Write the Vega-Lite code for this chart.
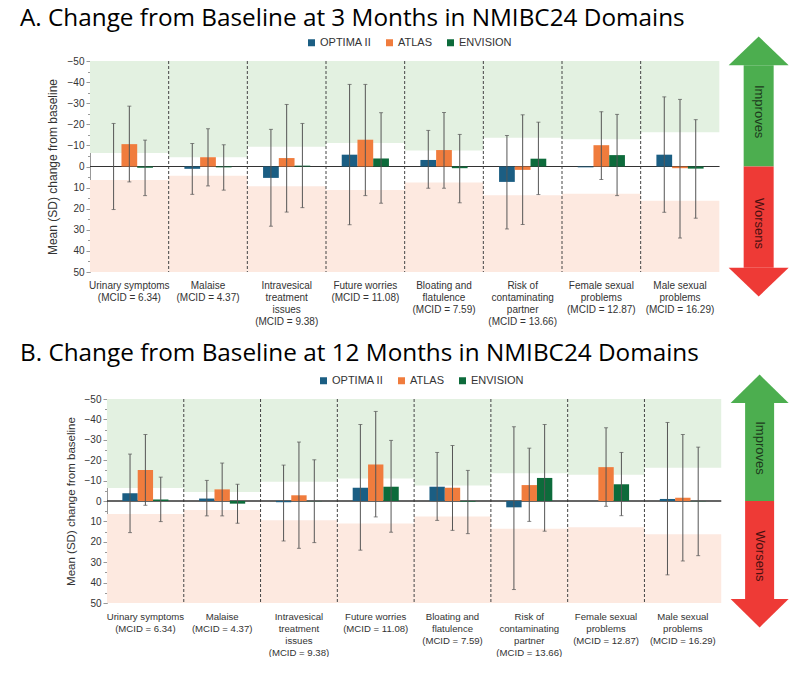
{
  "$schema": "https://vega.github.io/schema/vega-lite/v6.json",
  "padding": {"left": 20, "top": 7, "right": 0, "bottom": 0},
  "spacing": 16,
  "resolve": {"scale": {"color": "independent", "xOffset": "independent"}, "legend": {"color": "independent"}},
  "config": {
    "view": {"stroke": null},
    "font": "Liberation Sans",
    "axis": {"grid": false},
    "title": {"font": "Open Sans", "fontSize": 24.3, "fontWeight": "normal", "color": "#000", "anchor": "start", "frame": "group"}
  },
  "datasets": {
    "doms": [
      {"domain": "Urinary symptoms|(MCID = 6.34)", "mcid": 6.34, "neg": -6.34},
      {"domain": "Malaise|(MCID = 4.37)", "mcid": 4.37, "neg": -4.37},
      {"domain": "Intravesical|treatment|issues|(MCID = 9.38)", "mcid": 9.38, "neg": -9.38},
      {"domain": "Future worries|(MCID = 11.08)", "mcid": 11.08, "neg": -11.08},
      {"domain": "Bloating and|flatulence|(MCID = 7.59)", "mcid": 7.59, "neg": -7.59},
      {"domain": "Risk of|contaminating|partner|(MCID = 13.66)", "mcid": 13.66, "neg": -13.66},
      {"domain": "Female sexual|problems|(MCID = 12.87)", "mcid": 12.87, "neg": -12.87},
      {"domain": "Male sexual|problems|(MCID = 16.29)", "mcid": 16.29, "neg": -16.29}
    ],
    "a": [
      {"domain": "Urinary symptoms|(MCID = 6.34)", "trial": "OPTIMA II", "mean": 0, "lo": -20.4, "hi": 20.4},
      {"domain": "Urinary symptoms|(MCID = 6.34)", "trial": "ATLAS", "mean": -10.6, "lo": -28.6, "hi": 7.3},
      {"domain": "Urinary symptoms|(MCID = 6.34)", "trial": "ENVISION", "mean": 0.6, "lo": -12.5, "hi": 13.8},
      {"domain": "Malaise|(MCID = 4.37)", "trial": "OPTIMA II", "mean": 1.1, "lo": -10.9, "hi": 13.2},
      {"domain": "Malaise|(MCID = 4.37)", "trial": "ATLAS", "mean": -4.4, "lo": -17.9, "hi": 9.2},
      {"domain": "Malaise|(MCID = 4.37)", "trial": "ENVISION", "mean": 0.4, "lo": -10.3, "hi": 11.2},
      {"domain": "Intravesical|treatment|issues|(MCID = 9.38)", "trial": "OPTIMA II", "mean": 5.4, "lo": -17.6, "hi": 28.3},
      {"domain": "Intravesical|treatment|issues|(MCID = 9.38)", "trial": "ATLAS", "mean": -4.0, "lo": -29.4, "hi": 21.6},
      {"domain": "Intravesical|treatment|issues|(MCID = 9.38)", "trial": "ENVISION", "mean": -0.4, "lo": -20.4, "hi": 19.5},
      {"domain": "Future worries|(MCID = 11.08)", "trial": "OPTIMA II", "mean": -5.6, "lo": -38.9, "hi": 27.6},
      {"domain": "Future worries|(MCID = 11.08)", "trial": "ATLAS", "mean": -12.7, "lo": -38.9, "hi": 13.8},
      {"domain": "Future worries|(MCID = 11.08)", "trial": "ENVISION", "mean": -3.8, "lo": -25.5, "hi": 17.4},
      {"domain": "Bloating and|flatulence|(MCID = 7.59)", "trial": "OPTIMA II", "mean": -3.1, "lo": -17.1, "hi": 10.3},
      {"domain": "Bloating and|flatulence|(MCID = 7.59)", "trial": "ATLAS", "mean": -7.8, "lo": -25.6, "hi": 10.3},
      {"domain": "Bloating and|flatulence|(MCID = 7.59)", "trial": "ENVISION", "mean": 0.8, "lo": -15.2, "hi": 17.2},
      {"domain": "Risk of|contaminating|partner|(MCID = 13.66)", "trial": "OPTIMA II", "mean": 7.3, "lo": -14.7, "hi": 29.6},
      {"domain": "Risk of|contaminating|partner|(MCID = 13.66)", "trial": "ATLAS", "mean": 1.6, "lo": -24.5, "hi": 27.5},
      {"domain": "Risk of|contaminating|partner|(MCID = 13.66)", "trial": "ENVISION", "mean": -3.7, "lo": -21.0, "hi": 13.3},
      {"domain": "Female sexual|problems|(MCID = 12.87)", "trial": "OPTIMA II", "mean": 0.4, "lo": null, "hi": null},
      {"domain": "Female sexual|problems|(MCID = 12.87)", "trial": "ATLAS", "mean": -10.1, "lo": -26.0, "hi": 6.2},
      {"domain": "Female sexual|problems|(MCID = 12.87)", "trial": "ENVISION", "mean": -5.4, "lo": -24.7, "hi": 13.8},
      {"domain": "Male sexual|problems|(MCID = 16.29)", "trial": "OPTIMA II", "mean": -5.6, "lo": -33.0, "hi": 21.7},
      {"domain": "Male sexual|problems|(MCID = 16.29)", "trial": "ATLAS", "mean": 0.8, "lo": -31.8, "hi": 33.9},
      {"domain": "Male sexual|problems|(MCID = 16.29)", "trial": "ENVISION", "mean": 1.0, "lo": -22.2, "hi": 24.5}
    ],
    "b": [
      {"domain": "Urinary symptoms|(MCID = 6.34)", "trial": "OPTIMA II", "mean": -3.8, "lo": -23.0, "hi": 15.5},
      {"domain": "Urinary symptoms|(MCID = 6.34)", "trial": "ATLAS", "mean": -15.2, "lo": -32.6, "hi": 2.1},
      {"domain": "Urinary symptoms|(MCID = 6.34)", "trial": "ENVISION", "mean": -0.7, "lo": -11.7, "hi": 10.1},
      {"domain": "Malaise|(MCID = 4.37)", "trial": "OPTIMA II", "mean": -1.2, "lo": -10.1, "hi": 7.3},
      {"domain": "Malaise|(MCID = 4.37)", "trial": "ATLAS", "mean": -5.7, "lo": -18.6, "hi": 7.3},
      {"domain": "Malaise|(MCID = 4.37)", "trial": "ENVISION", "mean": 1.3, "lo": -8.2, "hi": 10.9},
      {"domain": "Intravesical|treatment|issues|(MCID = 9.38)", "trial": "OPTIMA II", "mean": 0.6, "lo": -17.6, "hi": 19.6},
      {"domain": "Intravesical|treatment|issues|(MCID = 9.38)", "trial": "ATLAS", "mean": -2.8, "lo": -28.9, "hi": 23.2},
      {"domain": "Intravesical|treatment|issues|(MCID = 9.38)", "trial": "ENVISION", "mean": 0.1, "lo": -20.2, "hi": 20.4},
      {"domain": "Future worries|(MCID = 11.08)", "trial": "OPTIMA II", "mean": -6.5, "lo": -37.5, "hi": 24.1},
      {"domain": "Future worries|(MCID = 11.08)", "trial": "ATLAS", "mean": -17.9, "lo": -43.9, "hi": 7.8},
      {"domain": "Future worries|(MCID = 11.08)", "trial": "ENVISION", "mean": -7.0, "lo": -29.7, "hi": 15.3},
      {"domain": "Bloating and|flatulence|(MCID = 7.59)", "trial": "OPTIMA II", "mean": -7.0, "lo": -23.8, "hi": 9.5},
      {"domain": "Bloating and|flatulence|(MCID = 7.59)", "trial": "ATLAS", "mean": -6.5, "lo": -27.2, "hi": 14.4},
      {"domain": "Bloating and|flatulence|(MCID = 7.59)", "trial": "ENVISION", "mean": 0.3, "lo": -15.0, "hi": 16.0},
      {"domain": "Risk of|contaminating|partner|(MCID = 13.66)", "trial": "OPTIMA II", "mean": 3.1, "lo": -36.4, "hi": 43.4},
      {"domain": "Risk of|contaminating|partner|(MCID = 13.66)", "trial": "ATLAS", "mean": -7.8, "lo": -25.9, "hi": 10.0},
      {"domain": "Risk of|contaminating|partner|(MCID = 13.66)", "trial": "ENVISION", "mean": -11.3, "lo": -37.5, "hi": 14.8},
      {"domain": "Female sexual|problems|(MCID = 12.87)", "trial": "ATLAS", "mean": -16.6, "lo": -35.9, "hi": 2.6},
      {"domain": "Female sexual|problems|(MCID = 12.87)", "trial": "ENVISION", "mean": -8.2, "lo": -23.8, "hi": 7.2},
      {"domain": "Male sexual|problems|(MCID = 16.29)", "trial": "OPTIMA II", "mean": -1.0, "lo": -38.5, "hi": 36.2},
      {"domain": "Male sexual|problems|(MCID = 16.29)", "trial": "ATLAS", "mean": -1.6, "lo": -32.6, "hi": 29.4},
      {"domain": "Male sexual|problems|(MCID = 16.29)", "trial": "ENVISION", "mean": 0.1, "lo": -26.4, "hi": 26.8}
    ]
  },
  "vconcat": [
    {
      "title": {"text": "A. Change from Baseline at 3 Months in NMIBC24 Domains", "dx": -70, "offset": 5},
      "width": 708,
      "height": 211,
      "layer": [
        {
          "data": {"name": "doms"},
          "mark": {"type": "rect", "color": "#e3f1e1"},
          "encoding": {
            "x": {"field": "domain", "type": "nominal", "sort": null,
              "scale": {"domain": ["Urinary symptoms|(MCID = 6.34)", "Malaise|(MCID = 4.37)", "Intravesical|treatment|issues|(MCID = 9.38)", "Future worries|(MCID = 11.08)", "Bloating and|flatulence|(MCID = 7.59)", "Risk of|contaminating|partner|(MCID = 13.66)", "Female sexual|problems|(MCID = 12.87)", "Male sexual|problems|(MCID = 16.29)", " "], "paddingInner": 0, "paddingOuter": 0},
              "axis": {"title": null, "domain": false, "ticks": false, "labelAngle": 0, "labelBaseline": "top", "labelPadding": 8, "labelLineHeight": 12, "labelFontSize": 10, "labelColor": "#333", "labelExpr": "split(datum.label, '|')"}},
            "y": {"field": "neg", "type": "quantitative",
              "scale": {"domain": [-50, 50], "reverse": true, "nice": false, "zero": false},
              "axis": {"title": "Mean (SD) change from baseline", "titleFontSize": 12, "titleFontWeight": "normal", "titleColor": "#333", "titlePadding": 8,
                "values": [-50, -45, -40, -35, -30, -25, -20, -15, -10, -5, 0, 5, 10, 15, 20, 25, 30, 35, 40, 45, 50],
                "tickCount": 25, "labelOverlap": false,
                "labelExpr": "datum.value % 10 === 0 ? datum.label : ''", "labelFontSize": 10, "labelColor": "#333", "labelPadding": 2,
                "tickColor": "#999", "domainColor": "#999", "tickSize": {"condition": {"test": "datum.value % 10 === 0", "value": 4}, "value": 2.5}}},
            "y2": {"datum": -50}
          }
        },
        {
          "data": {"name": "doms"},
          "mark": {"type": "rect", "color": "#fde9e0"},
          "encoding": {
            "x": {"field": "domain", "type": "nominal", "title": null},
            "y": {"field": "mcid", "type": "quantitative"},
            "y2": {"datum": 50}
          }
        },
        {
          "data": {"name": "doms"},
          "transform": [{"filter": "datum.domain != 'Urinary symptoms|(MCID = 6.34)'"}],
          "mark": {"type": "rule", "color": "#444", "strokeDash": [3, 2], "strokeWidth": 1},
          "encoding": {
            "x": {"field": "domain", "type": "nominal", "title": null, "bandPosition": 0},
            "y": {"datum": -50},
            "y2": {"datum": 50}
          }
        },
        {
          "data": {"name": "doms"},
          "mark": {"type": "rect", "fill": null, "stroke": "#333", "strokeWidth": 1},
          "encoding": {
            "x": {"field": "domain", "type": "nominal", "title": null},
            "y": {"datum": 0},
            "y2": {"datum": 0}
          }
        },
        {
          "data": {"name": "a"},
          "mark": {"type": "bar"},
          "encoding": {
            "x": {"field": "domain", "type": "nominal", "title": null},
            "xOffset": {"field": "trial", "type": "nominal", "sort": ["OPTIMA II", "ATLAS", "ENVISION"], "scale": {"paddingInner": 0, "paddingOuter": 1}},
            "y": {"field": "mean", "type": "quantitative"},
            "color": {"field": "trial", "type": "nominal",
              "scale": {"domain": ["OPTIMA II", "ATLAS", "ENVISION"], "range": ["#1b5e83", "#f07c3d", "#0d6b3b"]},
              "legend": {"title": null, "orient": "none", "direction": "horizontal", "legendX": 216, "legendY": -24, "symbolType": "square", "symbolSize": 49, "labelFontSize": 11, "labelColor": "#333", "labelOffset": 3, "columnPadding": 12}}
          }
        },
        {
          "data": {"name": "a"},
          "mark": {"type": "rule", "color": "#555", "strokeWidth": 1},
          "encoding": {
            "x": {"field": "domain", "type": "nominal", "title": null},
            "xOffset": {"field": "trial", "type": "nominal", "sort": ["OPTIMA II", "ATLAS", "ENVISION"]},
            "y": {"field": "lo", "type": "quantitative"},
            "y2": {"field": "hi"}
          }
        },
        {
          "data": {"name": "a"},
          "mark": {"type": "tick", "color": "#555", "size": 4, "thickness": 1},
          "encoding": {
            "x": {"field": "domain", "type": "nominal", "title": null},
            "xOffset": {"field": "trial", "type": "nominal", "sort": ["OPTIMA II", "ATLAS", "ENVISION"]},
            "y": {"field": "lo", "type": "quantitative"}
          }
        },
        {
          "data": {"name": "a"},
          "mark": {"type": "tick", "color": "#555", "size": 4, "thickness": 1},
          "encoding": {
            "x": {"field": "domain", "type": "nominal", "title": null},
            "xOffset": {"field": "trial", "type": "nominal", "sort": ["OPTIMA II", "ATLAS", "ENVISION"]},
            "y": {"field": "hi", "type": "quantitative"}
          }
        },
        {
          "data": {"values": [{"label": "Improves"}]},
          "layer": [
            {"mark": {"type": "bar", "width": 30, "color": "#4cae4f"},
              "encoding": {"x": {"datum": " "}, "y": {"datum": -48}, "y2": {"datum": 0}}},
            {"mark": {"type": "point", "shape": "M-1,0.48L1,0.48L0,-0.48Z", "size": 3600, "filled": true, "opacity": 1, "color": "#4cae4f"},
              "encoding": {"x": {"datum": " "}, "y": {"datum": -54.8}}},
            {"mark": {"type": "text", "angle": 90, "fontSize": 13, "color": "#1d3b1d", "baseline": "middle", "align": "center"},
              "encoding": {"x": {"datum": " "}, "y": {"datum": -26}, "text": {"field": "label"}}}
          ]
        },
        {
          "data": {"values": [{"label": "Worsens"}]},
          "layer": [
            {"mark": {"type": "bar", "width": 30, "color": "#ee3a36"},
              "encoding": {"x": {"datum": " "}, "y": {"datum": 0}, "y2": {"datum": 48}}},
            {"mark": {"type": "point", "shape": "M-1,-0.48L1,-0.48L0,0.48Z", "size": 3600, "filled": true, "opacity": 1, "color": "#ee3a36"},
              "encoding": {"x": {"datum": " "}, "y": {"datum": 54.8}}},
            {"mark": {"type": "text", "angle": 90, "fontSize": 13, "color": "#4a1010", "baseline": "middle", "align": "center"},
              "encoding": {"x": {"datum": " "}, "y": {"datum": 27}, "text": {"field": "label"}}}
          ]
        }
      ]
    },
    {
      "title": {"text": "B. Change from Baseline at 12 Months in NMIBC24 Domains", "dx": -70, "offset": 8},
      "width": 708,
      "height": 204,
      "layer": [
        {
          "data": {"name": "doms"},
          "mark": {"type": "rect", "color": "#e3f1e1"},
          "encoding": {
            "x": {"field": "domain", "type": "nominal", "sort": null,
              "scale": {"domain": ["Urinary symptoms|(MCID = 6.34)", "Malaise|(MCID = 4.37)", "Intravesical|treatment|issues|(MCID = 9.38)", "Future worries|(MCID = 11.08)", "Bloating and|flatulence|(MCID = 7.59)", "Risk of|contaminating|partner|(MCID = 13.66)", "Female sexual|problems|(MCID = 12.87)", "Male sexual|problems|(MCID = 16.29)", " "], "paddingInner": 0, "paddingOuter": 0.1107, "align": 1},
              "axis": {"title": null, "domain": false, "ticks": false, "labelAngle": 0, "labelBaseline": "top", "labelPadding": 8, "labelLineHeight": 12, "labelFontSize": 9.6, "labelColor": "#333", "labelExpr": "split(datum.label, '|')"}},
            "y": {"field": "neg", "type": "quantitative",
              "scale": {"domain": [-50, 50], "reverse": true, "nice": false, "zero": false},
              "axis": {"title": "Mean (SD) change from baseline", "titleFontSize": 11.5, "titleFontWeight": "normal", "titleColor": "#333", "titlePadding": 8, "offset": -17,
                "values": [-50, -45, -40, -35, -30, -25, -20, -15, -10, -5, 0, 5, 10, 15, 20, 25, 30, 35, 40, 45, 50],
                "tickCount": 25, "labelOverlap": false,
                "labelExpr": "datum.value % 10 === 0 ? datum.label : ''", "labelFontSize": 10, "labelColor": "#333", "labelPadding": 2,
                "tickColor": "#999", "domainColor": "#999", "tickSize": {"condition": {"test": "datum.value % 10 === 0", "value": 4}, "value": 2.5}}},
            "y2": {"datum": -50}
          }
        },
        {
          "data": {"name": "doms"},
          "mark": {"type": "rect", "color": "#fde9e0"},
          "encoding": {
            "x": {"field": "domain", "type": "nominal", "title": null},
            "y": {"field": "mcid", "type": "quantitative"},
            "y2": {"datum": 50}
          }
        },
        {
          "data": {"name": "doms"},
          "transform": [{"filter": "datum.domain != 'Urinary symptoms|(MCID = 6.34)'"}],
          "mark": {"type": "rule", "color": "#444", "strokeDash": [3, 2], "strokeWidth": 1},
          "encoding": {
            "x": {"field": "domain", "type": "nominal", "title": null, "bandPosition": 0},
            "y": {"datum": -50},
            "y2": {"datum": 50}
          }
        },
        {
          "data": {"name": "doms"},
          "mark": {"type": "rect", "fill": null, "stroke": "#333", "strokeWidth": 1},
          "encoding": {
            "x": {"field": "domain", "type": "nominal", "title": null},
            "y": {"datum": 0},
            "y2": {"datum": 0}
          }
        },
        {
          "data": {"name": "b"},
          "mark": {"type": "bar"},
          "encoding": {
            "x": {"field": "domain", "type": "nominal", "title": null},
            "xOffset": {"field": "trial", "type": "nominal", "sort": ["OPTIMA II", "ATLAS", "ENVISION"], "scale": {"domain": ["OPTIMA II", "ATLAS", "ENVISION"], "paddingInner": 0, "paddingOuter": 1}},
            "y": {"field": "mean", "type": "quantitative"},
            "color": {"field": "trial", "type": "nominal",
              "scale": {"domain": ["OPTIMA II", "ATLAS", "ENVISION"], "range": ["#1b5e83", "#f07c3d", "#0d6b3b"]},
              "legend": {"title": null, "orient": "none", "direction": "horizontal", "legendX": 228, "legendY": -24, "symbolType": "square", "symbolSize": 49, "labelFontSize": 11, "labelColor": "#333", "labelOffset": 3, "columnPadding": 12}}
          }
        },
        {
          "data": {"name": "b"},
          "mark": {"type": "rule", "color": "#555", "strokeWidth": 1},
          "encoding": {
            "x": {"field": "domain", "type": "nominal", "title": null},
            "xOffset": {"field": "trial", "type": "nominal", "sort": ["OPTIMA II", "ATLAS", "ENVISION"]},
            "y": {"field": "lo", "type": "quantitative"},
            "y2": {"field": "hi"}
          }
        },
        {
          "data": {"name": "b"},
          "mark": {"type": "tick", "color": "#555", "size": 4, "thickness": 1},
          "encoding": {
            "x": {"field": "domain", "type": "nominal", "title": null},
            "xOffset": {"field": "trial", "type": "nominal", "sort": ["OPTIMA II", "ATLAS", "ENVISION"]},
            "y": {"field": "lo", "type": "quantitative"}
          }
        },
        {
          "data": {"name": "b"},
          "mark": {"type": "tick", "color": "#555", "size": 4, "thickness": 1},
          "encoding": {
            "x": {"field": "domain", "type": "nominal", "title": null},
            "xOffset": {"field": "trial", "type": "nominal", "sort": ["OPTIMA II", "ATLAS", "ENVISION"]},
            "y": {"field": "hi", "type": "quantitative"}
          }
        },
        {
          "data": {"values": [{"label": "Improves"}]},
          "layer": [
            {"mark": {"type": "bar", "width": 29, "color": "#4cae4f"},
              "encoding": {"x": {"datum": " "}, "y": {"datum": -48}, "y2": {"datum": 0}}},
            {"mark": {"type": "point", "shape": "M-1,0.49L1,0.49L0,-0.49Z", "size": 3364, "filled": true, "opacity": 1, "color": "#4cae4f"},
              "encoding": {"x": {"datum": " "}, "y": {"datum": -55}}},
            {"mark": {"type": "text", "angle": 90, "fontSize": 13, "color": "#1d3b1d", "baseline": "middle", "align": "center"},
              "encoding": {"x": {"datum": " "}, "y": {"datum": -26}, "text": {"field": "label"}}}
          ]
        },
        {
          "data": {"values": [{"label": "Worsens"}]},
          "layer": [
            {"mark": {"type": "bar", "width": 29, "color": "#ee3a36"},
              "encoding": {"x": {"datum": " "}, "y": {"datum": 0}, "y2": {"datum": 48}}},
            {"mark": {"type": "point", "shape": "M-1,-0.49L1,-0.49L0,0.49Z", "size": 3364, "filled": true, "opacity": 1, "color": "#ee3a36"},
              "encoding": {"x": {"datum": " "}, "y": {"datum": 55}}},
            {"mark": {"type": "text", "angle": 90, "fontSize": 13, "color": "#4a1010", "baseline": "middle", "align": "center"},
              "encoding": {"x": {"datum": " "}, "y": {"datum": 27}, "text": {"field": "label"}}}
          ]
        }
      ]
    }
  ]
}
